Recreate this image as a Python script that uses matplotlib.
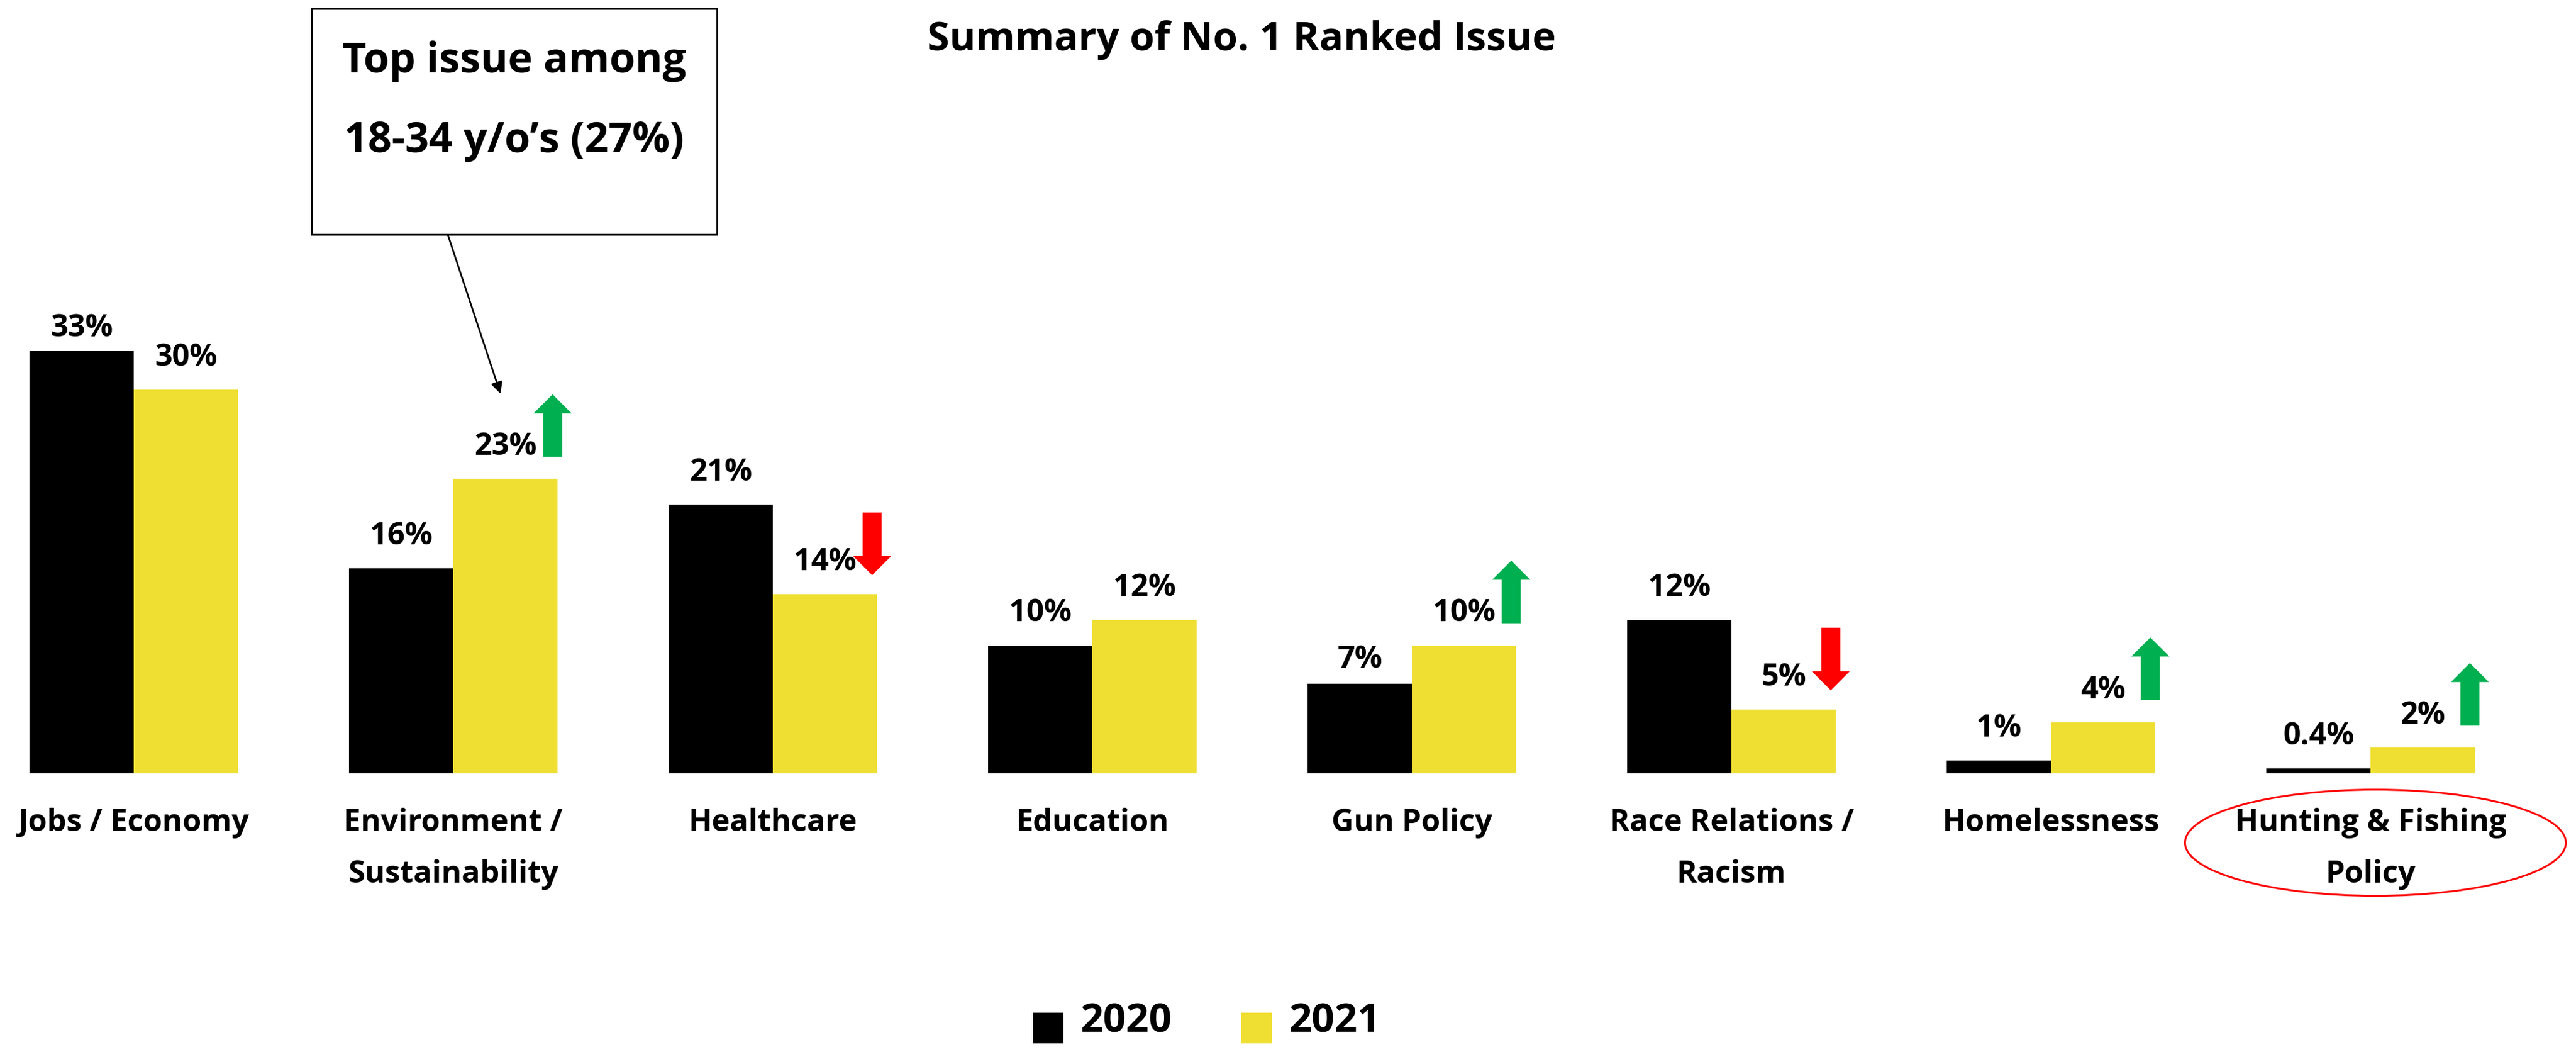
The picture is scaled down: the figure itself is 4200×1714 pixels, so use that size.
import matplotlib
matplotlib.use("Agg")
import matplotlib.pyplot as plt
from matplotlib.patches import Rectangle, Ellipse, Polygon
import numpy as np

# ---- data -------------------------------------------------------------
categories = ["Jobs / Economy", "Environment /\nSustainability", "Healthcare",
              "Education", "Gun Policy", "Race Relations /\nRacism",
              "Homelessness", "Hunting & Fishing\nPolicy"]
share_2020 = [33, 16, 21, 10, 7, 12, 1, 0.4]
share_2021 = [30, 23, 14, 12, 10, 5, 4, 2]
trend_2021 = ["", "up", "down", "", "up", "down", "up", "up"]
series_names = ["2020", "2021"]
title = "Summary of No. 1 Ranked Issue"
callout_lines = ["Top issue among", "18-34 y/o\u2019s (27%)"]
highlight_index = 7

# ---- style ------------------------------------------------------------
plt.rcParams["font.family"] = ["Open Sans", "DejaVu Sans"]
BLACK = "#000000"
YELLOW = "#EFDF33"
GREEN = "#00B050"
RED = "#FF0000"

W, H = 4200, 1715
fig = plt.figure(figsize=(W / 100, H / 100), dpi=100)
ax = fig.add_axes([0, 0, 1, 1])

# pixel grid of the canvas: group centres every 521 px, baseline at 1261 px
X0, XS = 218, 521.0
Y0, YS = 1261, 20.85
ax.set_xlim(-X0 / XS, (W - X0) / XS)
ax.set_ylim((Y0 - H) / YS, Y0 / YS)
ax.axis("off")


def dx(px):
    return px / XS


def dy(px):
    return px / YS


bw = dx(170)
x = np.arange(len(categories))
ax.bar(x - bw / 2, share_2020, bw, color=BLACK, linewidth=0)
ax.bar(x + bw / 2, share_2021, bw, color=YELLOW, linewidth=0)

VAL_FS = 36
gap_2020 = {0: 25, 4: 27}


def pct(v):
    return f"{v:g}%"


def arrow_poly(cx, y_start, direction):
    sw, hw = dx(15.5), dx(31)
    L, hl = dy(102), dy(31)
    s = 1 if direction == "up" else -1
    ys, yn, ye = y_start, y_start + s * (L - hl), y_start + s * L
    return [(cx - sw, ys), (cx + sw, ys), (cx + sw, yn), (cx + hw, yn),
            (cx, ye), (cx - hw, yn), (cx - sw, yn)]


for i, (a, b) in enumerate(zip(share_2020, share_2021)):
    ya = a + dy(gap_2020.get(i, 40))
    ax.text(i - bw / 2, ya, pct(a), ha="center", va="baseline",
            fontsize=VAL_FS, fontweight="bold", color=BLACK)
    yb = b + dy(40)
    ax.text(i + bw / 2, yb, pct(b), ha="center", va="baseline",
            fontsize=VAL_FS, fontweight="bold", color=BLACK)
    cx = i + bw - dx(8)
    if trend_2021[i] == "up":
        ax.add_patch(Polygon(arrow_poly(cx, yb - dy(4), "up"),
                             closed=True, color=GREEN, linewidth=0))
    elif trend_2021[i] == "down":
        tip = yb - dy(9)
        ax.add_patch(Polygon(arrow_poly(cx, tip + dy(102), "down"),
                             closed=True, color=RED, linewidth=0))

# category labels under the groups
CAT_FS = 36
for i, cat in enumerate(categories):
    for k, line in enumerate(cat.split("\n")):
        ax.text(i, (Y0 - 1354 - 84 * k) / YS, line, ha="center",
                va="baseline", fontsize=CAT_FS, fontweight="bold")

ax.add_patch(Ellipse((highlight_index + dx(8), (Y0 - 1374) / YS),
                     dx(621), dy(173), fill=False, edgecolor=RED,
                     linewidth=2.2, clip_on=False))

# title
fig.text(2024 / W, 1 - 82 / H, title, ha="center", va="baseline",
         fontsize=47, fontweight="bold")

# callout box
bx0, bx1, by0, by1 = 508, 1169, 15, 383
fig.add_artist(Rectangle((bx0 / W, 1 - by1 / H), (bx1 - bx0) / W,
                         (by1 - by0) / H, transform=fig.transFigure,
                         facecolor="white", edgecolor="black", linewidth=2))
for k, line in enumerate(callout_lines):
    fig.text((bx0 + bx1) / 2 / W, 1 - (118 + 130 * k) / H, line,
             ha="center", va="baseline", fontsize=49, fontweight="bold")

ax.annotate("", xy=(1 + bw / 2 - dx(8), share_2021[1] + dy(139)),
            xycoords="data",
            xytext=(730 / W, 1 - by1 / H), textcoords="figure fraction",
            arrowprops=dict(arrowstyle="-|>", color="black", lw=2,
                            mutation_scale=28, shrinkA=0, shrinkB=0))

# legend
for name, col, sx, tx in zip(series_names, [BLACK, YELLOW],
                             [1684, 2024], [1762, 2102]):
    fig.add_artist(Rectangle((sx / W, 1 - 1701 / H), 50 / W, 50 / H,
                             transform=fig.transFigure, facecolor=col,
                             linewidth=0))
    fig.text(tx / W, 1 - 1682 / H, name, ha="left", va="baseline",
             fontsize=47, fontweight="bold")

fig.savefig("out.png", dpi=100, facecolor="white")
